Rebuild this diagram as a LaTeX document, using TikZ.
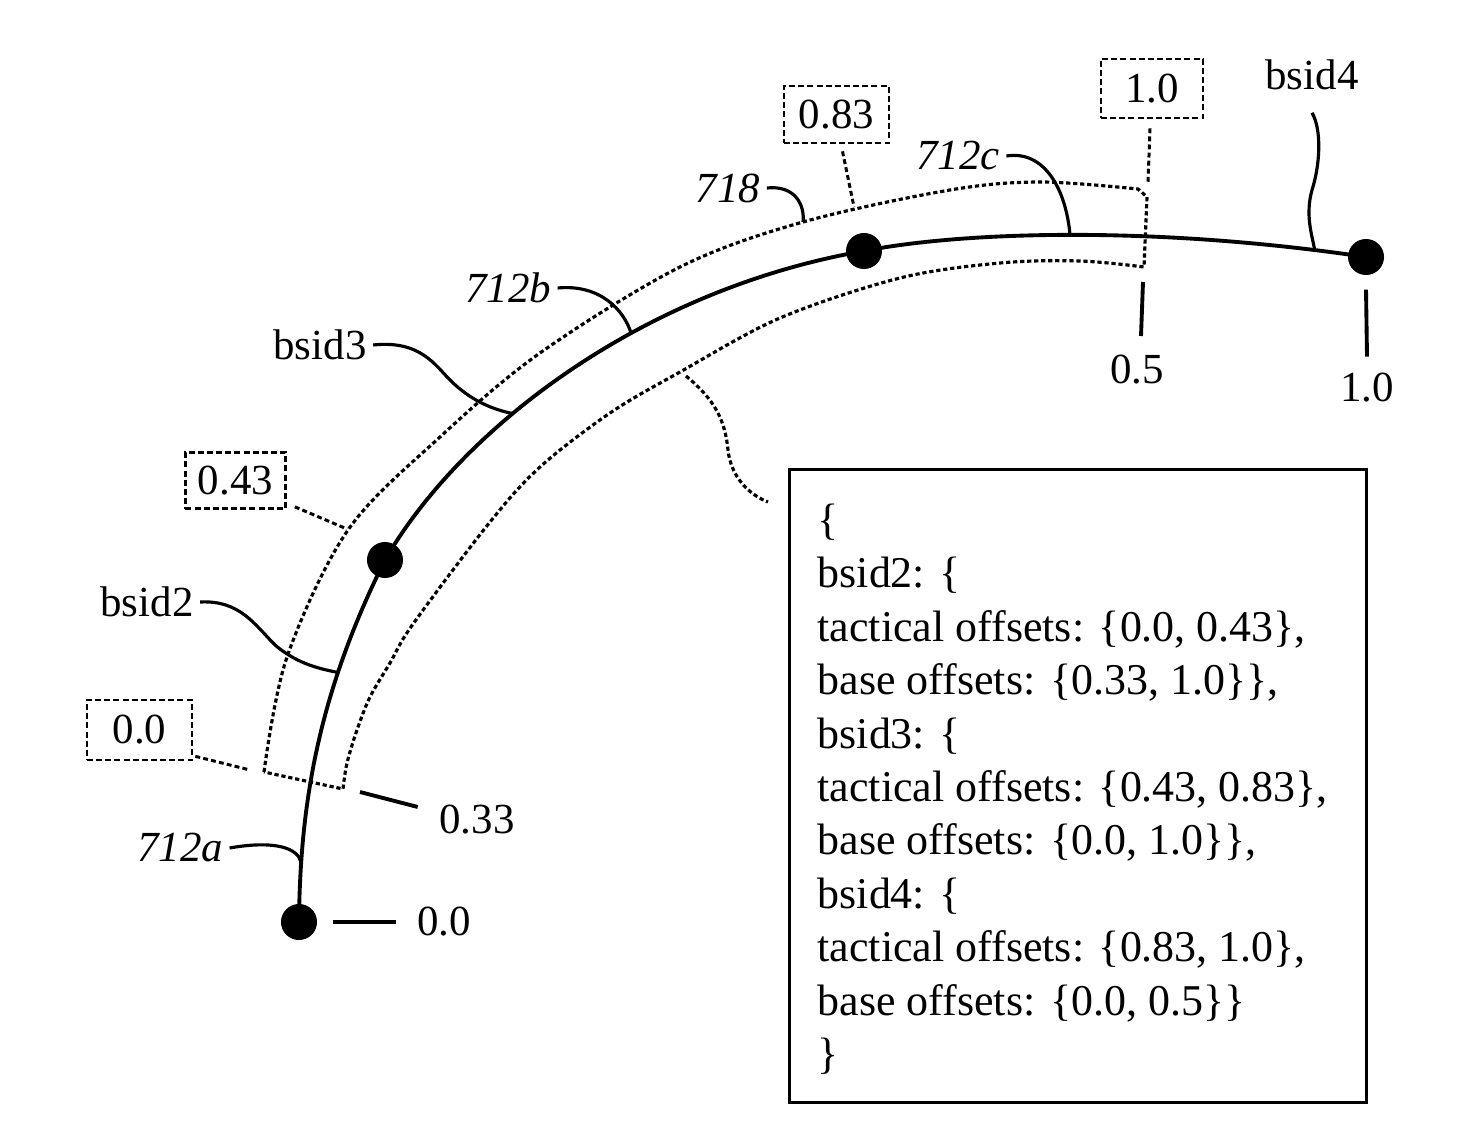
\documentclass[tikz,border=0pt]{standalone}
\usepackage{fontspec}
\setmainfont{Liberation Serif}
\begin{document}
\begin{tikzpicture}[x=0.01cm,y=-0.01cm,
  lbl/.style={inner xsep=0.06cm, inner ysep=0pt, font=\fontsize{12.2}{14.6}\selectfont},
  ilbl/.style={lbl, font=\fontsize{12.2}{14.6}\selectfont\itshape},
  valbox/.style={draw, dash pattern=on 1.7pt off 0.9pt, line width=0.75pt, inner sep=0pt, font=\fontsize{12.2}{14.6}\selectfont},
  dot/.style={circle, fill=black, minimum size=0.36cm, inner sep=0pt},
  mainline/.style={line width=1.1pt},
  band/.style={line width=0.9pt, dash pattern=on 1.2pt off 0.8pt},
  leader/.style={line width=0.9pt},
  dleader/.style={line width=0.85pt, dash pattern=on 1.4pt off 0.9pt},
  tickline/.style={line width=1.1pt}]
\useasboundingbox (0,0) rectangle (1482,1128);

% dots
\node[dot] (d0) at (299,922) {};
\node[dot] (d1) at (385,560) {};
\node[dot] (d2) at (864,251) {};
\node[dot] (d3) at (1366,257) {};

% main curve
\draw[mainline] (d0.center) .. controls (300,800) and (320,690) .. (d1.center)
   coordinate[pos=0.165] (c712a) coordinate[pos=0.7] (cbsid2);
\draw[mainline] (d1.center) .. controls (460,430) and (640,290) .. (d2.center)
   coordinate[pos=0.38] (cbsid3) coordinate[pos=0.62] (c712b);
\draw[mainline] (d2.center) .. controls (960,232) and (1150,225) .. (d3.center)
   coordinate[pos=0.5] (c712c) coordinate[pos=0.92] (cbsid4);

% dashed band 718
\draw[band] plot[smooth, tension=0.55] coordinates {(264,772) (287,657) (348,530) (440,437) (540,353) (680,267) (803,222) (950,190) (1040,182) (1138,189)}
  -- (1147,197) -- (1144,267)
  -- plot[smooth, tension=0.55] coordinates {(1144,267) (1080,261) (1000,263) (900,278) (780,318) (680,372) (610,413) (540,467) (490,522) (413,624) (390,663) (370,697) (357,730) (347,763) (343,789)}
  -- cycle;
\coordinate (o718) at (803,222);
\coordinate (o083) at (854,207);
\coordinate (o043) at (347,529);
\coordinate (o00) at (250,770);
\coordinate (o10) at (1148,182);
\coordinate (iS) at (686,376);
\coordinate (eS) at (768,502);

% labels
\node[ilbl] (l712a) at (180,848) {712a};
\node[lbl] (lbsid2) at (147,602) {bsid2};
\node[lbl] (lbsid3) at (320,345) {bsid3};
\node[ilbl] (l712b) at (508,288) {712b};
\node[ilbl] (l718) at (728,188) {718};
\node[ilbl] (l712c) at (958,156) {712c};
\node[lbl] (lbsid4) at (1312,75) {bsid4};

% value boxes
\node[valbox, minimum width=1.0cm, minimum height=0.56cm] (b043) at (235.5,480.5) {0.43};
\node[valbox, minimum width=1.05cm, minimum height=0.6cm] (b00) at (139.5,730) {0.0};
\node[valbox, minimum width=1.05cm, minimum height=0.57cm] (b083) at (836.5,114.5) {0.83};
\node[valbox, minimum width=1.02cm, minimum height=0.59cm] (b10) at (1152,88.5) {1.0};

% offset labels
\node[lbl] (v033) at (477,820) {0.33};
\node[lbl] (v00) at (444,922) {0.0};
\node[lbl] (v05) at (1137,370) {0.5};
\node[lbl] (v10) at (1367,388) {1.0};

% leaders
\draw[leader] (l712a.east) .. controls (275,840) and (298,848) .. (c712a);
\draw[leader] (lbsid2.east) .. controls (240,600) and (255,625) .. (275,645) .. controls (295,662) and (315,668) .. (cbsid2);
\draw[leader] (lbsid3.east) .. controls (420,340) and (435,365) .. (450,380) .. controls (465,395) and (485,408) .. (cbsid3);
\draw[leader] (l712b.east) .. controls (600,284) and (624,310) .. (c712b);
\draw[leader] (l718.east) .. controls (795,185) and (805,205) .. (o718);
\draw[leader] (l712c.east) .. controls (1045,150) and (1066,190) .. (c712c);
\draw[leader] ([yshift=-0.22cm]lbsid4.south) .. controls (1322,130) and (1320,165) .. (1312,190) .. controls (1305,215) and (1312,235) .. (cbsid4);

% dashed leaders from value boxes
\draw[dleader] ([shift={(8,-3)}]b043.south east) -- (o043);
\draw[dleader] ([shift={(2,-5)}]b00.south east) -- (o00);
\draw[dleader] ([shift={(6,7)}]b083.south) -- (o083);
\draw[dleader] ([shift={(-2,9)}]b10.south) -- (o10);

% tick lines
\coordinate (t033) at (360,792);
\draw[tickline] (t033) -- ([shift={(-15,-13)}]v033.west);
\draw[tickline] ([xshift=0.15cm]d0.east) -- ([xshift=-0.14cm]v00.west);
\coordinate (t05) at (1143,282);
\draw[tickline] (t05) -- (1141,336);
\draw[tickline] ([yshift=-0.14cm]d3.south) -- ([yshift=0.16cm]v10.north);

% dashed S connector to info box
\draw[band] (iS) .. controls (715,400) and (725,420) .. (728,450) .. controls (731,478) and (750,495) .. (eS);

% info box
\node[draw, line width=0.75pt, minimum width=5.77cm, minimum height=6.33cm, anchor=north west, inner sep=0pt] (infobox) at (788,468) {};
\node[anchor=north west, align=left, inner sep=0pt, font=\fontsize{12.5}{15.2}\selectfont] (infotext) at (817,503)
 {\{\\
  bsid2: \{\\
  tactical offsets: \{0.0, 0.43\},\\
  base offsets: \{0.33, 1.0\}\},\\
  bsid3: \{\\
  tactical offsets: \{0.43, 0.83\},\\
  base offsets: \{0.0, 1.0\}\},\\
  bsid4: \{\\
  tactical offsets: \{0.83, 1.0\},\\
  base offsets: \{0.0, 0.5\}\}\\
  \}};
\end{tikzpicture}
\end{document}
